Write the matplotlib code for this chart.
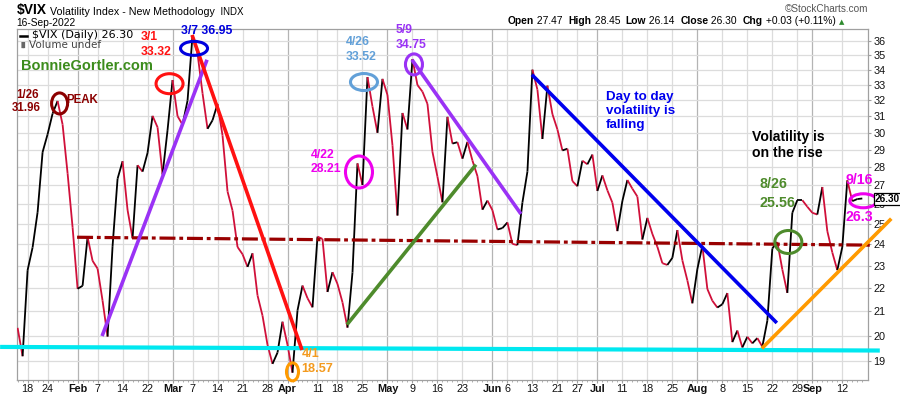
import matplotlib
matplotlib.use('Agg')
import matplotlib.pyplot as plt
import numpy as np
import pandas as pd
from matplotlib.collections import LineCollection
from matplotlib.patches import Ellipse
from matplotlib.transforms import ScaledTranslation

# trading days 13-Jan-2022 .. 16-Sep-2022
holidays = ['2022-01-17', '2022-02-21', '2022-04-15', '2022-05-30',
            '2022-06-20', '2022-07-04', '2022-09-05']
days = pd.bdate_range('2022-01-13', '2022-09-16')
days = days[~days.isin(pd.to_datetime(holidays))]

# $VIX daily closes
vix_jan = [20.31, 19.19, 22.79, 23.85, 25.59, 28.85, 29.90, 31.16, 31.96, 30.49, 27.66, 24.83]
vix_feb = [21.96, 22.09, 24.35, 23.22, 22.86, 21.44, 19.96, 23.91, 27.36, 28.33, 25.70, 24.29,
           28.11, 27.75, 28.81, 31.02, 30.32, 27.59, 30.15]
vix_mar = [33.32, 31.00, 30.48, 31.98, 36.45, 35.13, 32.45, 30.23, 30.75, 31.77, 29.83, 26.67,
           25.67, 23.87, 23.53, 22.94, 23.57, 21.67, 20.81, 19.63, 18.90, 19.33, 20.56]
vix_apr = [19.63, 18.57, 21.03, 22.10, 21.55, 21.16, 24.37, 24.26, 21.82, 22.70, 22.17, 21.37,
           20.32, 22.68, 28.21, 27.02, 33.52, 31.60, 29.99, 33.40]
vix_may = [32.34, 29.25, 25.42, 31.20, 30.19, 34.75, 32.99, 32.56, 31.77, 28.87, 27.47, 26.10,
           30.96, 29.35, 29.43, 28.48, 29.45, 28.37, 27.50, 25.72, 26.19]
vix_jun = [25.69, 24.72, 24.79, 25.07, 24.02, 23.96, 26.09, 27.75, 34.02, 32.69, 29.62, 32.95,
           31.13, 30.19, 28.95, 29.05, 27.23, 26.95, 28.36, 28.16, 28.71]
vix_jul = [26.70, 27.54, 26.73, 26.08, 24.64, 26.17, 27.29, 26.82, 26.40, 24.23, 25.30, 24.50,
           23.88, 23.11, 23.03, 23.36, 24.69, 23.24, 22.33, 21.33]
vix_aug = [22.84, 23.93, 21.95, 21.44, 21.15, 21.29, 21.77, 19.74, 20.20, 19.53, 19.95, 19.69,
           19.90, 19.56, 20.60, 23.80, 24.11, 22.82, 21.78, 25.56, 26.21, 26.21, 25.87]
vix_sep = [25.56, 25.47, 26.91, 24.64, 23.61, 22.79, 23.87, 27.27, 26.16, 26.27, 26.30]
vix = np.array(vix_jan + vix_feb + vix_mar + vix_apr + vix_may + vix_jun + vix_jul + vix_aug + vix_sep)

tick_dates = ['2022-01-18', '2022-01-24', '2022-02-01', '2022-02-07', '2022-02-14', '2022-02-22',
              '2022-03-01', '2022-03-07', '2022-03-14', '2022-03-21', '2022-03-28', '2022-04-01',
              '2022-04-11', '2022-04-18', '2022-04-25', '2022-05-02', '2022-05-09', '2022-05-16',
              '2022-05-23', '2022-06-01', '2022-06-06', '2022-06-13', '2022-06-21', '2022-06-27',
              '2022-07-01', '2022-07-11', '2022-07-18', '2022-07-25', '2022-08-01', '2022-08-08',
              '2022-08-15', '2022-08-22', '2022-08-29', '2022-09-01', '2022-09-12']
tick_labels = ['18', '24', 'Feb', '7', '14', '22', 'Mar', '7', '14', '21', '28', 'Apr', '11', '18',
               '25', 'May', '9', '16', '23', 'Jun', '6', '13', '21', '27', 'Jul', '11', '18', '25',
               'Aug', '8', '15', '22', '29', 'Sep', '12']
months = ['Feb', 'Mar', 'Apr', 'May', 'Jun', 'Jul', 'Aug', 'Sep']
y_ticks = list(range(19, 37))

# trend lines: (trading day index, value) endpoints
purple_up = [(16.9, 19.98), (37.9, 34.7)]
red_down = [(34.9, 36.46), (56.9, 19.43)]
support = [(11.9, 24.34), (170.5, 23.96)]
floor = [(-3.5, 19.55), (172.5, 19.41)]
green_up = [(65.9, 20.44), (91.7, 28.14)]
purple_down = [(78.9, 34.7), (100.7, 25.5)]
blue_down = [(102.9, 33.68), (151.9, 20.51)]
orange_up = [(148.9, 19.49), (174.8, 25.26)]

RED = '#d0103a'
PURPLE = '#9a32f5'
MAG = '#ee00ee'
ORANGE = '#ff9a00'
GREEN = '#4e8b2c'
DRED = '#8b0000'
LBLUE = '#62a0d8'
BLUE = '#0000ee'

fig = plt.figure(figsize=(9, 3.96), dpi=100)
ax = fig.add_axes([17 / 900, 1 - 380 / 396, 851 / 900, 351 / 396])
ax.set_yscale('log')
ax.set_ylim(18.3, 36.9)
ax.set_xlim(-0.12, 170.14)

# grid
xt = [days.get_loc(pd.Timestamp(d)) for d in tick_dates]
for x, lab in zip(xt, tick_labels):
    ax.axvline(x, color='#b4b4b4' if lab in months else '#dcdcdc', lw=0.9, zorder=0)
for v in y_ticks:
    ax.axhline(v, color='#dcdcdc', lw=0.9, zorder=0)

for s in ax.spines.values():
    s.set_color('#a0a0a0')
    s.set_linewidth(0.9)

ax.yaxis.tick_right()
ax.set_yticks(y_ticks)
ax.set_yticklabels([str(v) for v in y_ticks])
ax.yaxis.set_minor_locator(matplotlib.ticker.NullLocator())
ax.set_xticks(xt)
ax.set_xticklabels(tick_labels)
ax.set_xticks(np.arange(0, len(vix)), minor=True)
ax.tick_params(axis='x', which='major', length=2, color='#a0a0a0', pad=1, labelsize=7.8)
ax.tick_params(axis='x', which='minor', length=1.2, color='#a0a0a0')
ax.tick_params(axis='y', which='major', length=2.5, color='#a0a0a0', pad=1.5, labelsize=7.8)
for t in ax.get_xticklabels() + ax.get_yticklabels():
    t.set_fontfamily('Liberation Sans')
    t.set_color('#111111')
    if t.get_text() in months:
        t.set_fontweight('bold')

# price line: black when up, red when down
idx = np.arange(len(vix))
segs = [[(idx[i], vix[i]), (idx[i + 1], vix[i + 1])] for i in range(len(vix) - 1)]
cols = ['black' if vix[i + 1] >= vix[i] else RED for i in range(len(vix) - 1)]
ax.add_collection(LineCollection(segs, colors=cols, linewidths=1.3, zorder=3))


def tline(pts, color, lw=2.6, ls='-'):
    (x0, y0), (x1, y1) = pts
    ax.plot([x0, x1], [y0, y1], color=color, lw=lw, ls=ls, zorder=4,
            clip_on=False, solid_capstyle='butt')


tline(floor, '#00e8f0', lw=3.0)
tline(support, '#990000', lw=2.3, ls=(0, (5, 1.2, 1.2, 1.2)))
tline(purple_up, PURPLE)
tline(red_down, '#ff1111')
tline(green_up, GREEN)
tline(purple_down, PURPLE)
tline(blue_down, BLUE)
tline(orange_up, ORANGE)


def ring(x, y, w, h, color):
    tr = fig.dpi_scale_trans + ScaledTranslation(x, y, ax.transData)
    ax.add_patch(Ellipse((0, 0), w / 100, h / 100, transform=tr, fill=False,
                         ec=color, lw=2.2, clip_on=False, zorder=5))


ring(8.4, 31.8, 16, 21, DRED)
ring(30.4, 33.08, 27, 20, '#ff1111')
ring(35.3, 35.5, 27, 14, '#0000dd')
ring(55.0, 18.6, 12, 18, ORANGE)
ring(68.3, 27.73, 27, 32, MAG)
ring(69.3, 33.19, 27, 17, LBLUE)
ring(79.3, 34.38, 17, 21, PURPLE)
ring(154.2, 24.11, 27, 23, GREEN)
ring(169.2, 26.18, 27, 14, MAG)


def px(x, y):
    return x / 900, 1 - y / 396


def note(x, y, s, color, size=8.8, ha='left', weight='bold', family='Liberation Sans', **kw):
    return fig.text(*px(x, y), s, color=color, fontsize=size, ha=ha, va='center',
                    fontweight=weight, family=family, zorder=10, **kw)


def follow(prev, s, size, weight='normal', color='black'):
    return ax.annotate(s, xy=(1, 0), xycoords=prev, fontsize=size, fontweight=weight,
                       color=color, family='Liberation Sans', va='bottom', annotation_clip=False)


note(39, 95.5, '1/26', DRED, 8.3, ha='right')
note(41, 108, '31.96', DRED, 8.3, ha='right')
note(66, 99.6, 'PEAK', DRED, 8.3)
note(21.5, 66, 'BonnieGortler.com', '#3c8c1c', 10.5)
note(141, 36.5, '3/1', '#ff1111')
note(141, 51.7, '33.32', '#ff1111')
note(181, 31, '3/7 36.95', '#0000dd')
note(346, 41.7, '4/26', LBLUE)
note(346, 57, '33.52', LBLUE)
note(396, 30, '5/9', PURPLE)
note(396, 44.7, '34.75', PURPLE)
note(310.7, 155, '4/22', MAG)
note(310.7, 168.7, '28.21', MAG)
note(301.7, 354, '4/1', '#f39a1e', 9.2)
note(301.7, 368.5, '18.57', '#f39a1e', 9.2)
note(606, 111, 'Day to day\nvolatility is\nfalling', BLUE, 9.6, linespacing=1.25)
note(751.7, 145, 'Volatility is\non the rise', 'black', 10.1, linespacing=1.25)
note(760, 183.7, '8/26', GREEN, 10.3)
note(760, 203, '25.56', GREEN, 10.3)
note(845.7, 179.7, '9/16', MAG, 10.2)
note(845.7, 217.5, '26.3', MAG, 10.2)
note(875, 199.2, '26.30', 'black', 7.2,
     bbox=dict(boxstyle='square,pad=0.1', fc='white', ec='black', lw=0.9))

# header
a = fig.text(*px(16.7, 14), '$VIX', fontsize=10, fontweight='bold', family='Liberation Sans',
             va='baseline')
b = follow(a, ' Volatility Index - New Methodology', 7.7)
follow(b, '  INDX', 7.0)
note(16.7, 23, '16-Sep-2022', 'black', 7.4, weight='normal')
note(868, 8.5, '\u00a9StockCharts.com', '#555555', 7.2, ha='right', weight='normal')

pieces = [('Open', 'bold'), (' 27.47  ', 'normal'), ('High', 'bold'), (' 28.45  ', 'normal'),
          ('Low', 'bold'), (' 26.14  ', 'normal'), ('Close', 'bold'), (' 26.30  ', 'normal'),
          ('Chg', 'bold'), (' +0.03 (+0.11%) ', 'normal')]
prev = fig.text(*px(508, 26.5), '', fontsize=7.4, va='baseline')
for s, w in pieces:
    prev = follow(prev, s, 7.4, w)
ax.annotate('\u25b2', xy=(1, 0.15), xycoords=prev, fontsize=5, color='#2e8b2e', va='bottom',
            annotation_clip=False)

# legend inside the plot
fig.add_artist(plt.Line2D([20 / 900, 27 / 900], [1 - 35.5 / 396] * 2, color='black', lw=1.8))
note(31.5, 35.5, '$VIX (Daily) 26.30', 'black', 8, weight='normal', family='DejaVu Sans')
note(18.5, 45, '\u2590\u258c', '#666666', 4.5, weight='normal', family='DejaVu Sans')
note(29, 45, 'Volume undef', '#444444', 7.5, weight='normal', family='DejaVu Sans')

fig.savefig('out.png', dpi=100)
